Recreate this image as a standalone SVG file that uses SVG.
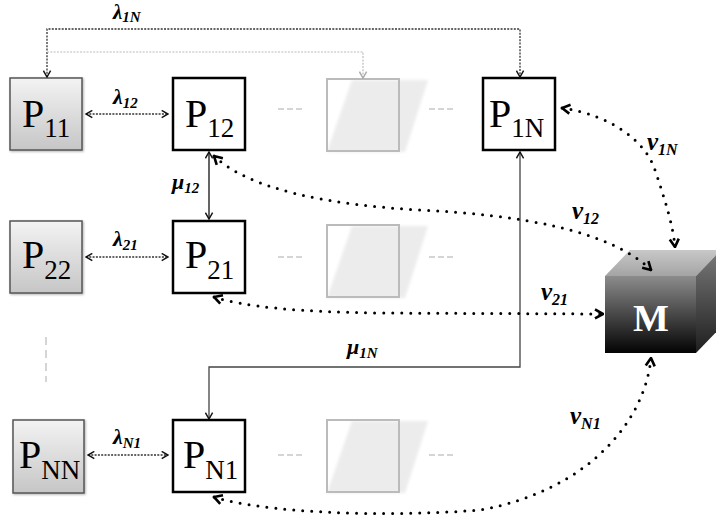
<svg xmlns="http://www.w3.org/2000/svg" width="716" height="522" viewBox="0 0 716 522">
<defs>
<style>
.pg{fill:url(#gGray);stroke:#555;stroke-width:1.5}
.pw{fill:#fff;stroke:#000;stroke-width:2.5}
.pt{font-family:"Liberation Serif","Times New Roman",serif;font-size:40px;fill:#000}
.sub{font-size:27px}
.lb{font-family:"Liberation Serif","Times New Roman",serif;font-size:22px;font-weight:bold;font-style:italic;fill:#000}
.ls{font-size:15px}
.nl{font-size:25px}
.nls{font-size:16px}
.fd{fill:#fff;stroke:none}
.fdo{fill:none;stroke:#bbb;stroke-width:2}
.fsh{fill:#ececec;filter:url(#blur)}
.gd{stroke:#c8c8c8;stroke-width:1.5;stroke-dasharray:6 3;fill:none}
.lam{fill:none;stroke:#333;stroke-width:1.3;stroke-dasharray:2 1.3}
.mu{fill:none;stroke:#111;stroke-width:1.3}
.nu{fill:none;stroke:#000;stroke-width:3;stroke-linecap:round;stroke-dasharray:0 9}
</style>
<linearGradient id="gGray" x1="0" y1="0" x2="0" y2="1">
<stop offset="0" stop-color="#f3f3f3"/><stop offset="1" stop-color="#c6c6c6"/>
</linearGradient>
<linearGradient id="gFront" x1="0" y1="0" x2="0" y2="1">
<stop offset="0" stop-color="#8c8c8c"/><stop offset="1" stop-color="#030303"/>
</linearGradient>
<linearGradient id="gTop" x1="0" y1="0" x2="0" y2="1">
<stop offset="0" stop-color="#c8c8c8"/><stop offset="1" stop-color="#a4a4a4"/>
</linearGradient>
<linearGradient id="gRight" x1="0" y1="0" x2="0" y2="1">
<stop offset="0" stop-color="#7a7a7a"/><stop offset="1" stop-color="#1e1e1e"/>
</linearGradient>
<filter id="blur" x="-20%" y="-20%" width="140%" height="140%"><feGaussianBlur stdDeviation="1.5"/></filter>
<filter id="shd" x="-10%" y="-10%" width="130%" height="130%"><feDropShadow dx="1" dy="1" stdDeviation="1" flood-opacity="0.3"/></filter>
<marker id="aT" markerUnits="userSpaceOnUse" viewBox="0 0 10 10" refX="9" refY="5" markerWidth="9" markerHeight="9" orient="auto-start-reverse">
<path d="M2,1 L9,5 L2,9" fill="none" stroke="#111" stroke-width="1.6"/>
</marker>
<marker id="aG" markerUnits="userSpaceOnUse" viewBox="0 0 10 10" refX="9" refY="5" markerWidth="9" markerHeight="9" orient="auto-start-reverse">
<path d="M2,1 L9,5 L2,9" fill="none" stroke="#aaa" stroke-width="1.6"/>
</marker>
<marker id="aB" markerUnits="userSpaceOnUse" viewBox="0 0 12 12" refX="11" refY="6" markerWidth="12" markerHeight="12" orient="auto-start-reverse">
<path d="M3,1.5 L11,6 L3,10.5" fill="none" stroke="#000" stroke-width="2.6"/>
</marker>
</defs>

<rect width="716" height="522" fill="#fff"/>

<g id="faded">
<g id="F1"><rect class="fd" x="327" y="79" width="72" height="72"/><polygon class="fsh" points="352,80 428,80 405,152 327,152"/><rect class="fdo" x="327" y="79" width="72" height="72"/></g>
<g id="F2"><rect class="fd" x="327" y="225" width="72" height="72"/><polygon class="fsh" points="352,226 428,226 405,298 327,298"/><rect class="fdo" x="327" y="225" width="72" height="72"/></g>
<g id="FN"><rect class="fd" x="327" y="420" width="72" height="72"/><polygon class="fsh" points="352,421 428,421 405,493 327,493"/><rect class="fdo" x="327" y="420" width="72" height="72"/></g>
</g>

<g id="dashes">
<line class="gd" x1="278" y1="109" x2="305" y2="109"/>
<line class="gd" x1="429" y1="109" x2="456" y2="109"/>
<line class="gd" x1="278" y1="257" x2="305" y2="257"/>
<line class="gd" x1="429" y1="257" x2="456" y2="257"/>
<line class="gd" x1="278" y1="455" x2="305" y2="455"/>
<line class="gd" x1="429" y1="455" x2="456" y2="455"/>
<line class="gd" x1="46" y1="337" x2="46" y2="382" style="stroke-dasharray:8 5"/>
</g>

<g id="P11"><rect class="pg" x="10" y="78" width="72" height="72" filter="url(#shd)"/><text class="pt" x="22" y="127">P<tspan class="sub" dy="10">11</tspan></text></g>
<g id="P12"><rect class="pw" x="173" y="78" width="72" height="72"/><text class="pt" x="185" y="127">P<tspan class="sub" dy="10">12</tspan></text></g>
<g id="P1N"><rect class="pw" x="483" y="78" width="72" height="72"/><text class="pt" x="489" y="127">P<tspan class="sub" dy="10">1N</tspan></text></g>
<g id="P22"><rect class="pg" x="10" y="221" width="72" height="72" filter="url(#shd)"/><text class="pt" x="22" y="268">P<tspan class="sub" dy="11">22</tspan></text></g>
<g id="P21"><rect class="pw" x="173" y="221" width="72" height="72"/><text class="pt" x="185" y="268">P<tspan class="sub" dy="11">21</tspan></text></g>
<g id="PNN"><rect class="pg" x="13" y="420" width="71" height="73" filter="url(#shd)"/><text class="pt" x="19" y="468">P<tspan class="sub" dy="11">NN</tspan></text></g>
<g id="PN1"><rect class="pw" x="173" y="420" width="72" height="72"/><text class="pt" x="183" y="468">P<tspan class="sub" dy="11">N1</tspan></text></g>

<g id="M">
<polygon points="605,276 630,250 721,250 696,276" fill="url(#gTop)"/>
<polygon points="696,276 721,250 721,327 696,353" fill="url(#gRight)"/>
<rect x="605" y="276" width="91" height="77" fill="url(#gFront)"/>
<text x="651" y="331" text-anchor="middle" font-family="Liberation Serif, Times New Roman, serif" font-size="38" font-weight="bold" fill="#fff">M</text>
</g>

<g id="connectors">
<path class="lam" d="M47,77 L47,29 L520,29 L520,77" marker-start="url(#aT)" marker-end="url(#aT)"/>
<path d="M47,52 L363,52 L363,78" fill="none" stroke="#bbb" stroke-width="1.2" stroke-dasharray="2 1.3" marker-end="url(#aG)"/>
<path class="lam" d="M86,114 L168,114" marker-start="url(#aT)" marker-end="url(#aT)"/>
<path class="lam" d="M86,257 L168,257" marker-start="url(#aT)" marker-end="url(#aT)"/>
<path class="lam" d="M88,455 L168,455" marker-start="url(#aT)" marker-end="url(#aT)"/>
<path class="mu" d="M209,152 L209,219" marker-start="url(#aT)" marker-end="url(#aT)"/>
<path class="mu" d="M520,152 L520,367 L209,367 L209,419" marker-start="url(#aT)" marker-end="url(#aT)" style="stroke:#444"/>
<path class="nu" d="M562,108 C610,115 645,140 655,170 C665,200 673,225 675,247" marker-start="url(#aB)" marker-end="url(#aB)"/>
<path class="nu" d="M214,156 C250,190 330,205 420,210 C520,215 610,230 651,270" marker-start="url(#aB)" marker-end="url(#aB)"/>
<path class="nu" d="M214,297 C245,307 300,312 380,313 L603,314" marker-start="url(#aB)" marker-end="url(#aB)"/>
<path class="nu" d="M214,497 C260,512 380,518 480,510 C590,490 645,420 651,358" marker-start="url(#aB)" marker-end="url(#aB)"/>
</g>

<g id="labels">
<text class="lb" x="113" y="19" style="font-size:21px">λ<tspan class="ls" dy="3">1N</tspan></text>
<text class="lb" x="113" y="104">λ<tspan class="ls" dy="4">12</tspan></text>
<text class="lb" x="113" y="246">λ<tspan class="ls" dy="4">21</tspan></text>
<text class="lb" x="113" y="444">λ<tspan class="ls" dy="4">N1</tspan></text>
<text class="lb" x="172" y="189">μ<tspan class="ls" dy="4">12</tspan></text>
<text class="lb" x="347" y="354">μ<tspan class="ls" dy="4">1N</tspan></text>
<text class="lb nl" x="647" y="150">ν<tspan class="nls" dy="5">1N</tspan></text>
<text class="lb nl" x="572" y="219">ν<tspan class="nls" dy="5">12</tspan></text>
<text class="lb nl" x="541" y="300">ν<tspan class="nls" dy="5">21</tspan></text>
<text class="lb nl" x="570" y="424">ν<tspan class="nls" dy="5">N1</tspan></text>
</g>
</svg>
